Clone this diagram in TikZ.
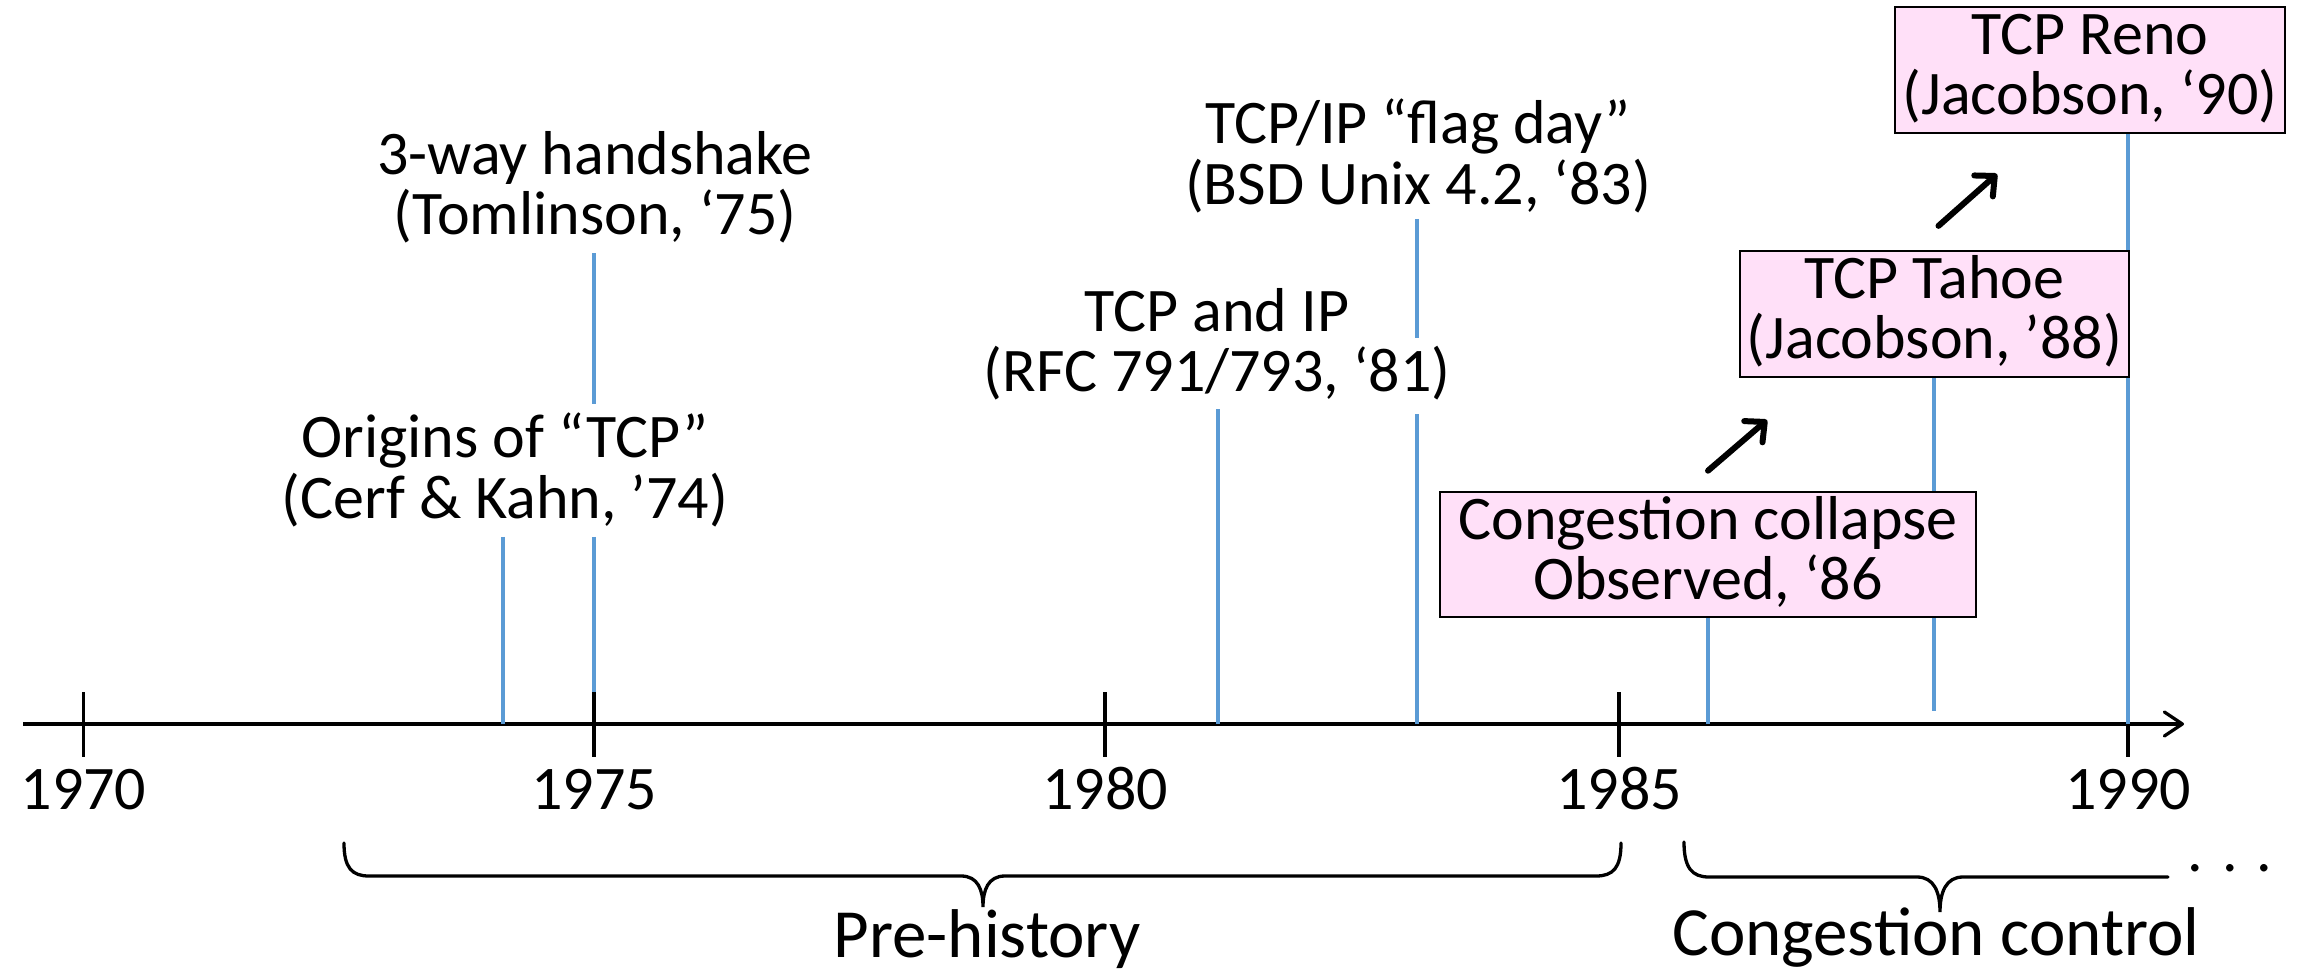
\documentclass[tikz,border=0pt]{standalone}
\usepackage{fontspec}
\setmainfont{Carlito}
\usetikzlibrary{arrows.meta,calc}
\pgfdeclarelayer{bg}
\pgfsetlayers{bg,main}
\definecolor{lineblue}{RGB}{91,155,213}
\definecolor{boxpink}{RGB}{255,224,248}
\newcommand\lst{\rule[-0.23em]{0pt}{0.93em}}
\tikzset{
 lbl/.style={font=\fontsize{62}{58}\selectfont, align=center, inner sep=0pt},
 evbox/.style={lbl, draw=black, line width=2pt, fill=boxpink, minimum height=124pt, inner ysep=4pt},
 yr/.style={font=\fontsize{62}{58}\selectfont, inner sep=0pt, anchor=base},
 era/.style={font=\fontsize{69}{70}\selectfont, inner sep=0pt, anchor=base},
 drop/.style={draw=lineblue, line width=3.6pt},
 axisline/.style={line width=3.3pt, -{Straight Barb[length=18pt,width=24pt,round]}},
 tickmark/.style={line width=3.3pt},
 brace/.style={line width=3.3pt, line cap=round},
 progress/.style={line width=6pt, line cap=round, -{Straight Barb[length=15pt,width=28pt,round]}}
}
\begin{document}
\begin{tikzpicture}[x=1pt, y=-1pt]
\useasboundingbox (0,0) rectangle (2300,973);

% axis coordinates
\coordinate (a0) at (23,724);
\coordinate (a1) at (2184,724);
\coordinate (t70) at (83.5,724);
\coordinate (t75) at (594,724);
\coordinate (t80) at (1105,724);
\coordinate (t85) at (1619,724);
\coordinate (t90) at (2128,724);
\coordinate (e74) at (503,724);
\coordinate (e81) at (1218,724);
\coordinate (e83) at (1417,724);
\coordinate (e86) at (1708,724);
\coordinate (e88) at (1934,724);

% event labels
\node[lbl] (hs) at (595,190) {\lst 3-way handshake\\\lst (Tomlinson, ‘75)};
\node[lbl] (orig) at (505,473) {\lst Origins of “TCP”\\\lst (Cerf \& Kahn, ’74)};
\node[lbl] (tcpip) at (1217,347) {\lst TCP and IP\\\lst (RFC 791/793, ‘81)};
\node[lbl] (flag) at (1418,159) {\lst TCP/IP “flag day”\\\lst (BSD Unix 4.2, ‘83)};

% boxes
\node[evbox, minimum width=536pt] (cong) at (1708,554.5) {\lst Congestion collapse\\\lst Observed, ‘86};
\node[evbox, minimum width=389pt] (tahoe) at (1934.5,314) {\lst TCP Tahoe\\\lst (Jacobson, ’88)};
\node[evbox, minimum width=390pt] (reno) at (2090,70) {\lst TCP Reno\\\lst (Jacobson, ‘90)};

% years
\node[yr] (y70) at ($(t70)+(0,85)$) {1970};
\node[yr] (y75) at ($(t75)+(0,85)$) {1975};
\node[yr] (y80) at ($(t80)+(0,85)$) {1980};
\node[yr] (y85) at ($(t85)+(0,85)$) {1985};
\node[yr] (y90) at ($(t90)+(0,85)$) {1990};

\begin{pgfonlayer}{bg}
  \draw[axisline] (a0) -- (a1);
  \foreach \t in {t70,t75,t80,t85,t90}
    \draw[tickmark] ($(\t)+(0,-32)$) -- ($(\t)+(0,33)$);
  % drop lines
  \draw[drop] ($(t75 |- hs.south)+(0,4)$) -- ($(t75 |- orig.north)+(0,-9)$);
  \draw[drop] ($(t75 |- orig.south)+(0,4)$) -- ($(t75)+(0,-32)$);
  \draw[drop] ($(e74 |- orig.south)+(0,4)$) -- (e74);
  \draw[drop] ($(e81 |- tcpip.south)+(0,3)$) -- (e81);
  \draw[drop] (e83 |- flag.south) -- ($(e83 |- tcpip.south)+(0,-68)$);
  \draw[drop] ($(e83 |- tcpip.south)+(0,8)$) -- (e83);
  \draw[drop] (cong.south -| e86) -- (e86);
  \draw[drop] (tahoe.south -| e88) -- ($(e88)+(0,-13)$);
  \draw[drop] (reno.south -| t90) -- (t90);
\end{pgfonlayer}

% progress arrows
\coordinate (p1) at (1767,420);
\coordinate (p2) at (1997,174);
\draw[progress] ($(cong.north)+(0,-20)$) -- (p1);
\draw[progress] ($(tahoe.north)+(4,-24)$) -- (p2);

% braces
\draw[brace] (344,843) .. controls (344,868) and (352,876) .. (369,876)
  -- (961,876) .. controls (978,876) and (983,890) .. (983,907)
  .. controls (983,890) and (988,876) .. (1005,876)
  -- (1596,876) .. controls (1613,876) and (1621,868) .. (1621,843);
\draw[brace] (1684,842) .. controls (1684,868) and (1692,877) .. (1709,877)
  -- (1917,877) .. controls (1934,877) and (1940,892) .. (1940,912)
  .. controls (1940,892) and (1946,877) .. (1963,877)
  -- (2168,877);
\node[yr] (more) at (2230,871) {. . .};

\node[era] (pre) at (987,957) {Pre-history};
\node[era] (cc) at (1936,955) {Congestion control};
\end{tikzpicture}
\end{document}
